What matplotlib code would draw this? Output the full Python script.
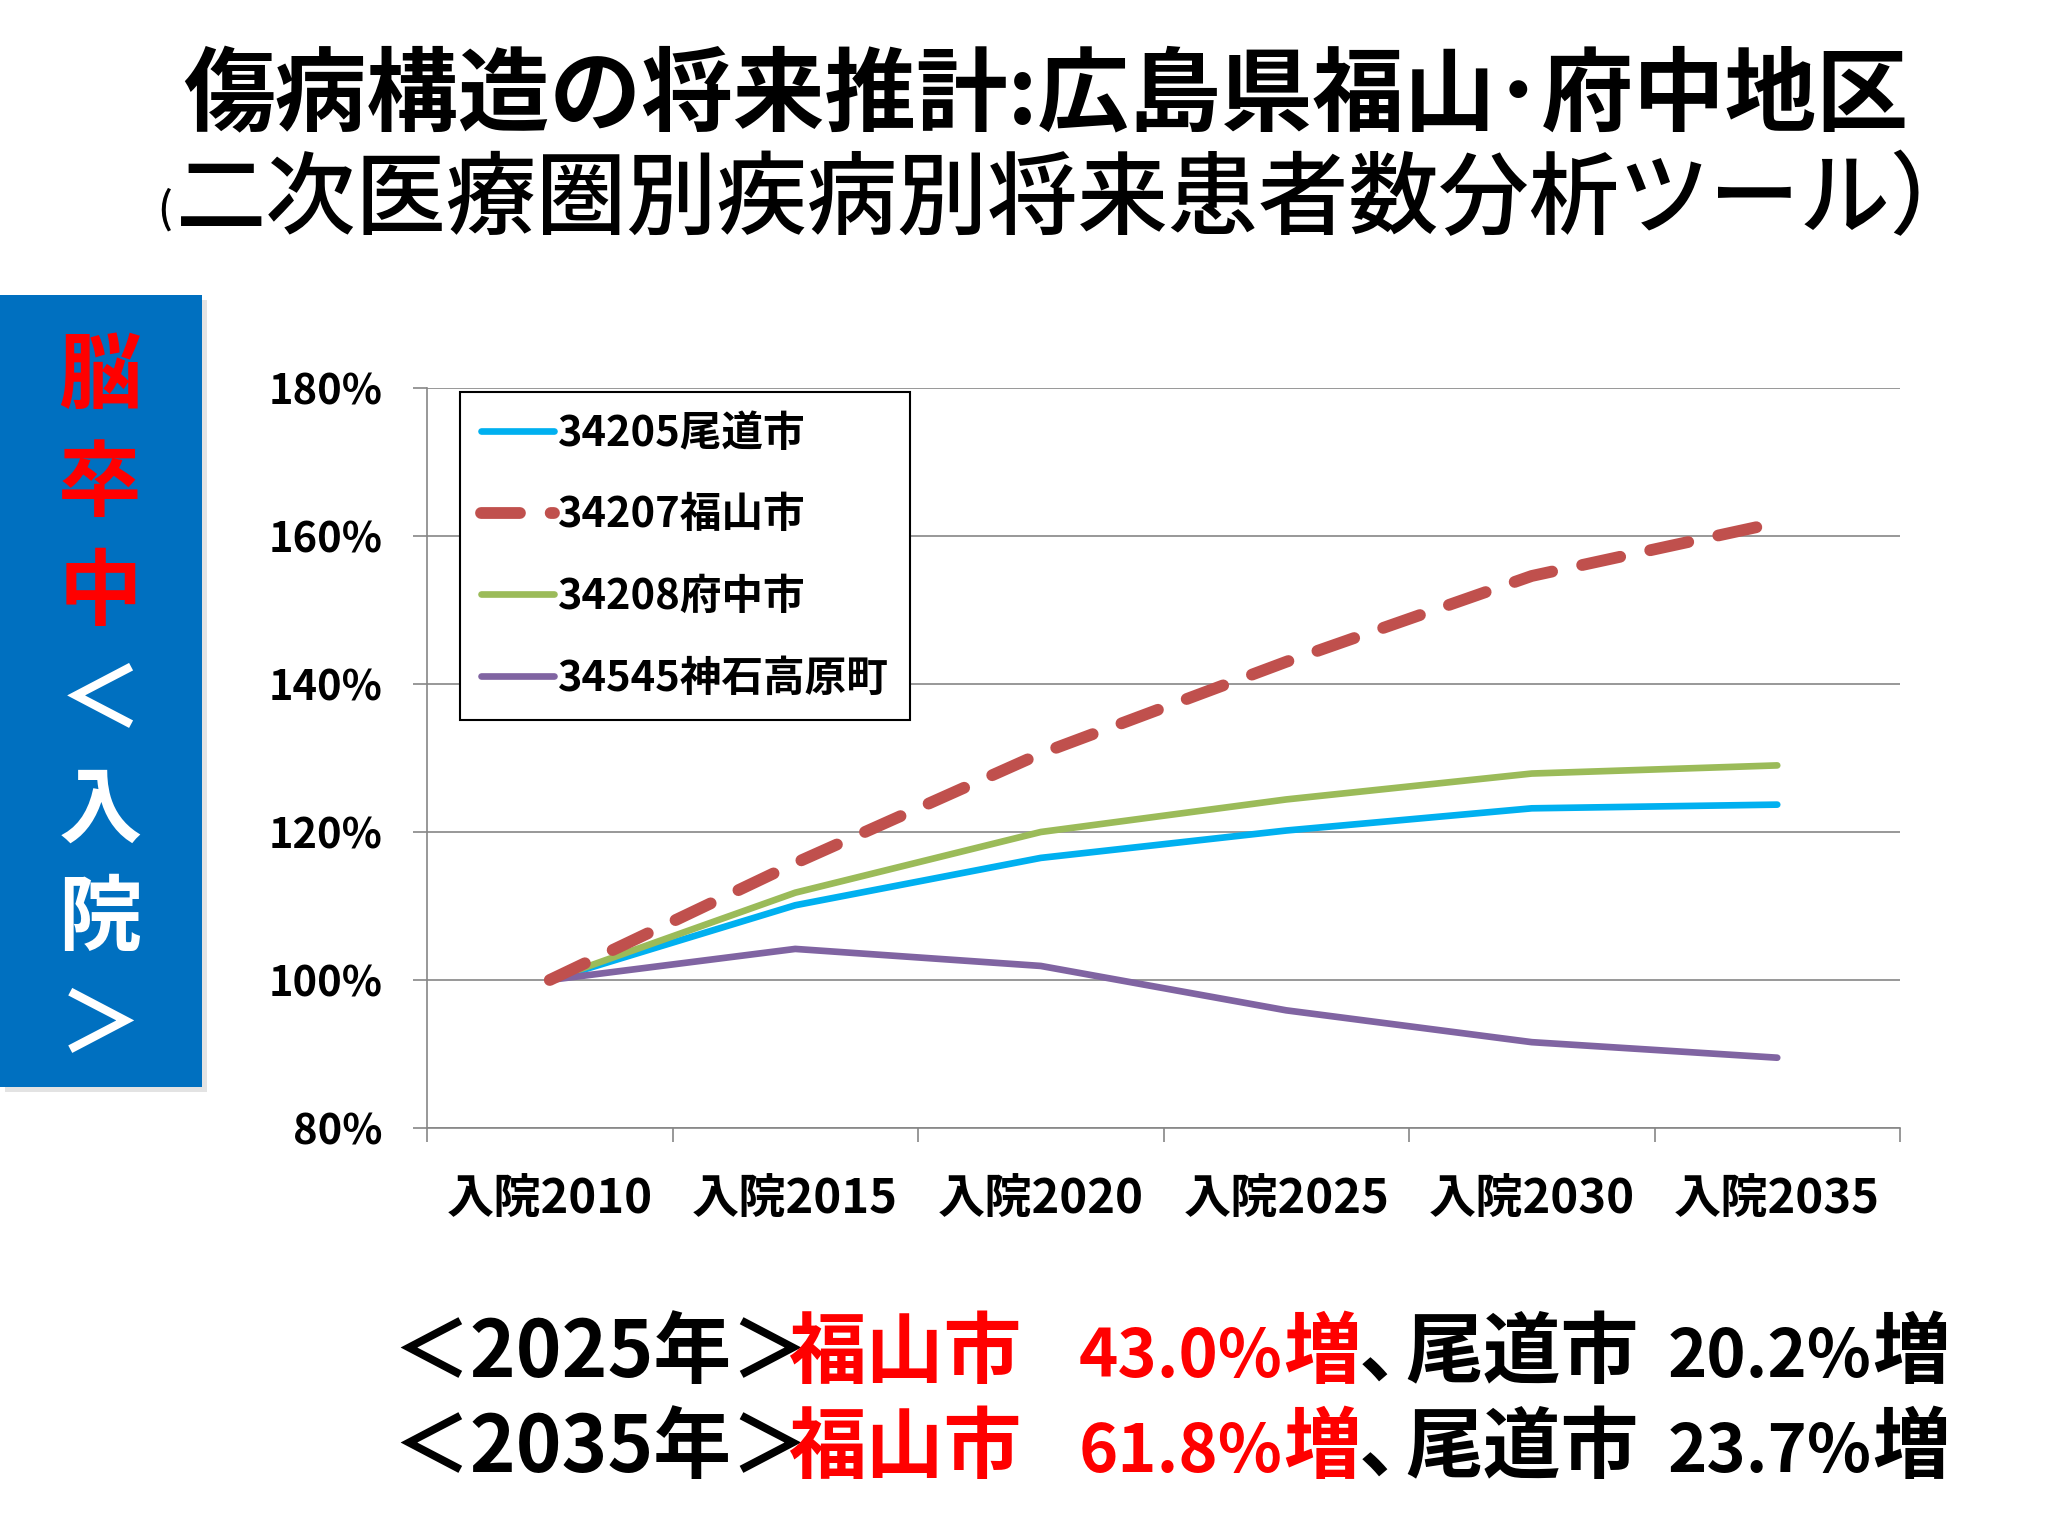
import matplotlib
matplotlib.use("Agg")
import matplotlib.pyplot as plt
from matplotlib.patches import Rectangle
from matplotlib.lines import Line2D

plt.rcParams['font.family'] = ['Noto Sans CJK JP', 'DejaVu Sans']

categories = ["入院2010", "入院2015", "入院2020", "入院2025", "入院2030", "入院2035"]
series_names = ["34205尾道市", "34207福山市", "34208府中市", "34545神石高原町"]
onomichi = [100.0, 110.1, 116.5, 120.2, 123.2, 123.7]
fukuyama = [100.0, 115.8, 130.6, 143.0, 154.6, 161.8]
fuchu = [100.0, 111.8, 120.0, 124.4, 127.9, 129.0]
jinseki = [100.0, 104.2, 101.9, 95.9, 91.6, 89.5]
yticks = [80, 100, 120, 140, 160, 180]
ytick_labels = ["80%", "100%", "120%", "140%", "160%", "180%"]

title1 = "傷病構造の将来推計:広島県福山･府中地区"
title2_open = "("
title2 = "二次医療圏別疾病別将来患者数分析ツール）"
side_red = ["脳", "卒", "中"]
side_white = ["＜", "入", "院", "＞"]
# (text, colour, is_number)
bottom_lines = [
    [("＜2025年＞", "black", False), ("福山市", "red", False), ("43.0%", "red", True), ("増", "red", False),
     ("､", "black", False), ("尾道市", "black", False), ("20.2%", "black", True), ("増", "black", False)],
    [("＜2035年＞", "black", False), ("福山市", "red", False), ("61.8%", "red", True), ("増", "red", False),
     ("､", "black", False), ("尾道市", "black", False), ("23.7%", "black", True), ("増", "black", False)],
]

W, H = 2048, 1536
fig = plt.figure(figsize=(W / 100, H / 100), dpi=100)
fig.patch.set_facecolor("white")

ax = fig.add_axes([427 / W, 1 - 1128 / H, (1900 - 427) / W, (1128 - 388) / H])
x = list(range(len(categories)))
colors = ["#00B0F0", "#C0504D", "#9BBB59", "#8064A2"]
ax.plot(x, onomichi, color=colors[0], lw=4.8, solid_capstyle="round", zorder=3)
ax.plot(x, fuchu, color=colors[2], lw=4.8, solid_capstyle="round", zorder=3)
ax.plot(x, jinseki, color=colors[3], lw=4.8, solid_capstyle="round", zorder=3)
ax.plot(x, fukuyama, color=colors[1], lw=8.5, dashes=(3.3, 2.6), dash_capstyle="round", zorder=4)

ax.set_xlim(-0.5, len(categories) - 0.5)
ax.set_ylim(80, 180)
ax.set_yticks(yticks)
ax.set_yticklabels(ytick_labels, fontsize=30, fontweight="bold")
ax.set_xticks(x)
ax.set_xticklabels(categories, fontsize=34, fontweight="bold")
ax.set_xticks([i - 0.5 for i in range(len(categories) + 1)], minor=True)
ax.tick_params(axis="x", which="major", length=0, pad=34)
ax.tick_params(axis="x", which="minor", length=10, width=1.2, color="#868686", direction="out")
ax.tick_params(axis="y", which="major", length=10, width=1.2, color="#868686", direction="out", pad=22)
ax.grid(axis="y", color="#868686", lw=1.2)
ax.set_axisbelow(True)
for s in ["top", "right"]:
    ax.spines[s].set_visible(False)
for s in ["left", "bottom"]:
    ax.spines[s].set_color("#868686")
    ax.spines[s].set_linewidth(1.2)

handles = [
    Line2D([], [], color=colors[0], lw=4.8, solid_capstyle="round"),
    Line2D([], [], color=colors[1], lw=8.5, dashes=(3.3, 2.6), dash_capstyle="round"),
    Line2D([], [], color=colors[2], lw=4.8, solid_capstyle="round"),
    Line2D([], [], color=colors[3], lw=4.8, solid_capstyle="round"),
]
leg = fig.legend(handles, series_names, loc="upper left",
                 bbox_to_anchor=(460 / W, 1 - 392 / H), frameon=True, fancybox=False,
                 edgecolor="black", framealpha=1, prop={"size": 30, "weight": "bold"},
                 handlelength=1.75, handletextpad=0.1, labelspacing=0.95,
                 borderpad=0.5, borderaxespad=0)
leg.get_frame().set_linewidth(1.5)

# titles
fig.text(1046 / W, 1 - 97 / H, title1, ha="center", va="center", fontsize=66, fontweight="bold")
fig.text(157 / W, 1 - 210 / H, title2_open, ha="left", va="center", fontsize=30, fontweight="medium")
fig.text(176 / W, 1 - 201 / H, title2, ha="left", va="center", fontsize=65, fontweight="medium")

# side box
fig.patches.append(Rectangle((5 / W, 1 - 1092 / H), 202 / W, 792 / H, transform=fig.transFigure,
                             facecolor="#b0b0b0", alpha=0.35, edgecolor="none", zorder=0))
fig.patches.append(Rectangle((0, 1 - 1087 / H), 202 / W, 792 / H, transform=fig.transFigure,
                             facecolor="#0070C0", edgecolor="none", zorder=1))
chars = side_red + side_white
y0, step = 377, 108.5
for i, ch in enumerate(chars):
    c = "#FF0000" if i < len(side_red) else "white"
    fig.text(100 / W, 1 - (y0 + i * step) / H, ch, ha="center", va="center",
             fontsize=60, fontweight="bold", color=c, zorder=2)

# bottom text: pieces at reference positions; later pieces never overlap the previous one
renderer = fig.canvas.get_renderer()
anchors = [392, 788, 1079, None, None, 1405, 1668, None]
exact = [True, True, True, False, False, False, False, False]
baselines = [1377, 1472]
for line, yb in zip(bottom_lines, baselines):
    prev_end = 0
    for (txt, col, is_num), anc, ex in zip(line, anchors, exact):
        if anc is None:
            xs = prev_end
        elif ex:
            xs = anc
        else:
            xs = max(anc, prev_end)
        t = fig.text(xs / W, 1 - yb / H, txt, ha="left", va="baseline",
                     fontsize=48 if is_num else 56, fontweight="bold", color=col)
        bb = t.get_window_extent(renderer)
        prev_end = bb.x1
fig.savefig("out.png", dpi=100, facecolor="white")
